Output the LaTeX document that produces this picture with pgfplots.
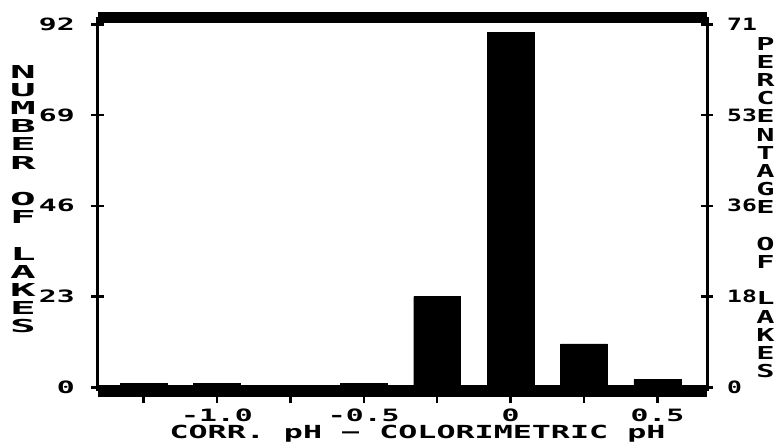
\documentclass[border=0pt]{standalone}
\usepackage{fontspec}
\usepackage{pgfplots}
\pgfplotsset{compat=1.18}
\setmainfont{DejaVu Sans Mono}
\newfontfamily\tickfont[FakeStretch=1.75]{DejaVu Sans Mono}
\newfontfamily\rtickfont[FakeStretch=1.45]{DejaVu Sans Mono}
\newfontfamily\labfont[FakeStretch=1.76]{DejaVu Sans Mono}
\newfontfamily\stackfont[FakeStretch=2.4]{DejaVu Sans Mono}
\newfontfamily\rstackfont[FakeStretch=1.7]{DejaVu Sans Mono}
\newcommand\tf{\tickfont\bfseries\fontsize{17}{17}\selectfont}
\newcommand\rtf{\rtickfont\bfseries\fontsize{17}{17}\selectfont}
\newcommand\lf{\labfont\bfseries\fontsize{18}{18}\selectfont\frenchspacing}
\newcommand\stf{\stackfont\bfseries\fontsize{17.8}{18.2}\selectfont}
\newcommand\rstf{\rstackfont\bfseries\fontsize{17.8}{18.2}\selectfont}
\begin{document}
\begin{tikzpicture}
\pgfplotsset{
  common/.style={
    at={(97.5pt,54pt)}, anchor=south west,
    scale only axis, width=609.5pt, height=373.6pt,
    xmin=-1.407, xmax=0.669, ymin=-0.94, ymax=93.75,
    /pgf/number format/assume math mode=true,
    ticklabel style={font=\tf},
    major tick length=12pt,
    every tick/.style={black, line width=2.5pt},
  }
}
\begin{axis}[common,
  axis on top,
  separate axis lines,
  x axis line style={line width=11.3pt, -},
  y axis line style={line width=3pt, -},
  tick align=outside,
  xtick={-1,-0.5,0,0.5}, xticklabels={-1.0,-0.5,0,0.5},
  minor xtick={-1.25,-0.75,-0.25,0.25},
  minor tick length=12pt,
  xtick pos=left, ytick pos=left,
  ytick={0,23,46,69,92},
  y tick style={xshift=6pt},
  xticklabel style={anchor=north, inner sep=0pt, yshift=-5.5pt},
  yticklabel style={anchor=east, inner sep=0pt, xshift=-10.5pt},
]
\addplot[ybar, bar width=0.16, fill=black, draw=black] coordinates {
  (-1.25,1) (-1.0,1) (-0.5,1) (-0.25,23) (0,90) (0.25,11) (0.5,2)
};
\end{axis}
\begin{axis}[common,
  axis x line=none,
  axis y line*=right,
  y axis line style={line width=3pt, -},
  tick align=center,
  ytick={0,23,46,69,92}, yticklabels={0,18,36,53,71},
  yticklabel style={font=\rtf, anchor=west, inner sep=0pt, xshift=14pt},
]
\end{axis}
\node[font=\lf, inner sep=0pt, anchor=base] at (417.5pt,7pt) {CORR. pH − COLORIMETRIC pH};
\node[font=\stf, align=center, inner sep=0pt, anchor=north] at (23pt,380pt) {N\\U\\M\\B\\E\\R\\~\\O\\F\\~\\L\\A\\K\\E\\S};
\node[font=\rstf, align=center, inner sep=0pt, anchor=north] at (765.5pt,408pt) {P\\E\\R\\C\\E\\N\\T\\A\\G\\E\\~\\O\\F\\~\\L\\A\\K\\E\\S};
\pgfresetboundingbox
\path[use as bounding box] (0pt,0pt) rectangle (775pt,445pt);
\end{tikzpicture}
\end{document}
